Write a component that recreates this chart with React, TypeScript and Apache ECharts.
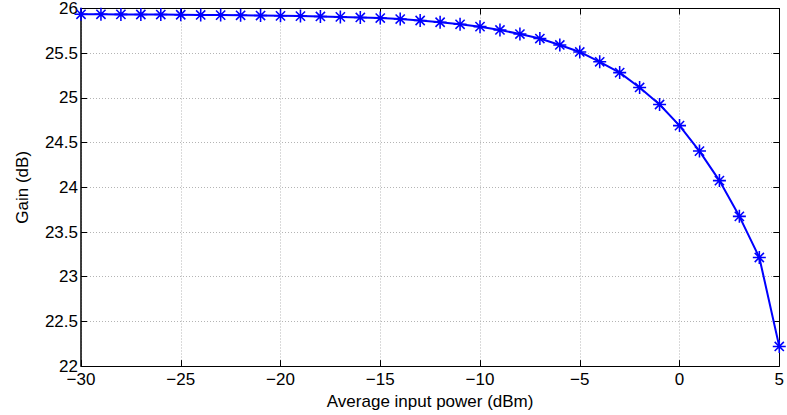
import React, { useEffect, useRef } from "react";
import * as echarts from "echarts";

const inputPower: number[] = [
  -30, -29, -28, -27, -26, -25, -24, -23, -22, -21, -20, -19, -18, -17, -16, -15, -14, -13,
  -12, -11, -10, -9, -8, -7, -6, -5, -4, -3, -2, -1, 0, 1, 2, 3, 4, 5,
];
const gain: number[] = [
  25.935, 25.935, 25.934, 25.933, 25.932, 25.93, 25.928, 25.926, 25.924, 25.921, 25.918,
  25.915, 25.911, 25.906, 25.9, 25.893, 25.882, 25.866, 25.846, 25.823, 25.797, 25.76,
  25.714, 25.664, 25.592, 25.514, 25.404, 25.283, 25.117, 24.926, 24.69, 24.405, 24.075,
  23.675, 23.215, 22.22,
];
const xTitle = "Average input power (dBm)";
const yTitle = "Gain (dB)";

function asteriskPath(): string {
  const t = 0.12;
  let d = "";
  [0, 45, 90, 135].forEach((deg) => {
    const a = (deg * Math.PI) / 180;
    const c = Math.cos(a);
    const s = Math.sin(a);
    const pts = [
      [-1, -t],
      [1, -t],
      [1, t],
      [-1, t],
    ].map(([x, y]) => [x * c - y * s, x * s + y * c]);
    d +=
      "M" +
      pts.map((p) => p[0].toFixed(4) + " " + p[1].toFixed(4)).join(" L") +
      " Z ";
  });
  return "path://" + d.trim();
}

export default function App() {
  const ref = useRef<HTMLDivElement>(null);
  useEffect(() => {
    if (!ref.current) return;
    const chart = echarts.init(ref.current, null, { renderer: "svg" });
    const font = "Liberation Sans";
    const fs = 17;
    const gridLine = { show: true, lineStyle: { color: "#b4b4b4", type: [1, 2] as any, width: 1 } };
    const data = inputPower.map((x, i) => [x, gain[i]]);
    chart.setOption({
      animation: false,
      backgroundColor: "#ffffff",
      grid: { left: 81, right: 3, top: 6, bottom: 47, containLabel: false },
      xAxis: [
        {
          type: "value",
          min: -30,
          max: 5,
          interval: 5,
          position: "bottom",
          name: xTitle,
          nameLocation: "middle",
          nameGap: 22,
          nameTextStyle: { fontFamily: font, fontSize: fs, color: "#000" },
          axisLine: { show: true, onZero: false, lineStyle: { color: "#000", width: 1 } },
          axisTick: { show: true, inside: true, length: 6, lineStyle: { color: "#000" } },
          axisLabel: {
            fontFamily: font,
            fontSize: fs,
            color: "#000",
            margin: 5,
            formatter: (v: number) => String(v).replace("-", "\u2212"),
          },
          splitLine: gridLine,
        },
        {
          type: "value",
          min: -30,
          max: 5,
          interval: 5,
          position: "top",
          axisLine: { show: true, onZero: false, lineStyle: { color: "#000", width: 1 } },
          axisTick: { show: true, inside: true, length: 6, lineStyle: { color: "#000" } },
          axisLabel: { show: false },
          splitLine: { show: false },
        },
      ],
      yAxis: [
        {
          type: "value",
          min: 22,
          max: 26,
          interval: 0.5,
          position: "left",
          name: yTitle,
          nameLocation: "middle",
          nameGap: 50,
          nameTextStyle: { fontFamily: font, fontSize: fs, color: "#000" },
          axisLine: { show: true, onZero: false, lineStyle: { color: "#000", width: 1.5 } },
          axisTick: { show: true, inside: true, length: 6, lineStyle: { color: "#000" } },
          axisLabel: { fontFamily: font, fontSize: fs, color: "#000", margin: 3 },
          splitLine: gridLine,
        },
        {
          type: "value",
          min: 22,
          max: 26,
          interval: 0.5,
          position: "right",
          axisLine: { show: true, onZero: false, lineStyle: { color: "#000", width: 1 } },
          axisTick: { show: true, inside: true, length: 6, lineStyle: { color: "#000" } },
          axisLabel: { show: false },
          splitLine: { show: false },
        },
      ],
      series: [
        {
          type: "line",
          xAxisIndex: 0,
          yAxisIndex: 0,
          data,
          symbol: asteriskPath(),
          symbolSize: 13,
          showSymbol: true,
          clip: false,
          lineStyle: { color: "#0000ff", width: 2 },
          itemStyle: { color: "#0000ff" },
        },
      ],
    });
    return () => chart.dispose();
  }, []);
  return (
    <div
      ref={ref}
      style={{ position: "fixed", left: 0, top: 0, width: 787, height: 415, background: "#fff" }}
    />
  );
}
